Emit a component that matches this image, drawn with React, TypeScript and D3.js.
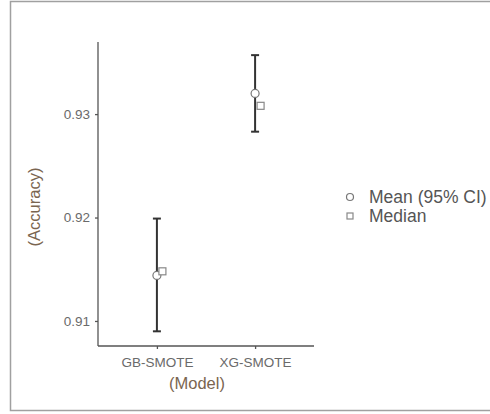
import React, { useRef, useEffect } from "react";
import * as d3 from "d3";

const models = ["GB-SMOTE", "XG-SMOTE"];
const meanValues = [0.9144, 0.932];
const ciLower = [0.909, 0.9283];
const ciUpper = [0.9199, 0.9357];
const medianValues = [0.9148, 0.9308];
const yTicks = [0.91, 0.92, 0.93];
const legendLabels = ["Mean (95% CI)", "Median"];

const App = () => {
  const ref = useRef<SVGSVGElement>(null);

  useEffect(() => {
    const svg = d3.select(ref.current);
    svg.selectAll("*").remove();

    const font = "'Liberation Sans', Arial, sans-serif";
    const left = 98, right = 314, top = 42, bottom = 346;

    // frame (right side runs off the picture)
    svg.append("rect")
      .attr("x", 10.5).attr("y", 1.5)
      .attr("width", 600).attr("height", 409)
      .attr("fill", "white")
      .attr("stroke", "#a0a0a0").attr("stroke-width", 1.5);

    const x = d3.scalePoint().domain(models).range([left, right]).padding(0.6);
    const y = d3.scaleLinear().domain([0.90758, 0.93697]).range([bottom, top]);

    const g = svg.append("g").attr("font-family", font);

    // y axis
    const ya = g.append("g")
      .attr("transform", `translate(${left},0)`)
      .call(d3.axisLeft(y).tickValues(yTicks).tickFormat(d3.format(".2f")).tickSize(3).tickPadding(5));
    ya.select(".domain").attr("stroke", "#555").attr("stroke-width", 1.3).attr("d", `M0,${top}V${bottom}`);
    ya.selectAll(".tick line").attr("stroke", "#555").attr("stroke-width", 1.3);
    ya.selectAll(".tick text").attr("fill", "#6a6a6a").attr("font-size", 13.5).attr("font-family", font);

    // x axis
    const xa = g.append("g")
      .attr("transform", `translate(0,${bottom})`)
      .call(d3.axisBottom(x).tickSize(3).tickPadding(8));
    xa.select(".domain").attr("stroke", "#555").attr("stroke-width", 1.3).attr("d", `M${left},0H${right}`);
    xa.selectAll(".tick line").attr("stroke", "#555").attr("stroke-width", 1.3);
    xa.selectAll(".tick text").attr("fill", "#6a6a6a").attr("font-size", 13.5).attr("font-family", font);

    // axis titles
    g.append("text")
      .attr("x", 197).attr("y", 389)
      .attr("text-anchor", "middle")
      .attr("font-size", 16.5).attr("fill", "#7a6550")
      .text("(Model)");
    g.append("text")
      .attr("transform", "translate(40,207) rotate(-90)")
      .attr("text-anchor", "middle")
      .attr("font-size", 16.5).attr("fill", "#7a6550")
      .text("(Accuracy)");

    // error bars
    const capW = 4;
    models.forEach((m, i) => {
      const cx = x(m) as number;
      const eb = g.append("g").attr("stroke", "#333").attr("stroke-width", 2);
      eb.append("line").attr("x1", cx).attr("x2", cx).attr("y1", y(ciLower[i])).attr("y2", y(ciUpper[i]));
      eb.append("line").attr("x1", cx - capW).attr("x2", cx + capW).attr("y1", y(ciLower[i])).attr("y2", y(ciLower[i]));
      eb.append("line").attr("x1", cx - capW).attr("x2", cx + capW).attr("y1", y(ciUpper[i])).attr("y2", y(ciUpper[i]));
    });

    // means
    g.selectAll(".mean")
      .data(meanValues)
      .enter()
      .append("circle")
      .attr("cx", (d, i) => x(models[i]) as number)
      .attr("cy", (d) => y(d))
      .attr("r", 4)
      .attr("fill", "white")
      .attr("stroke", "#777").attr("stroke-width", 1.2);

    // medians
    g.selectAll(".median")
      .data(medianValues)
      .enter()
      .append("rect")
      .attr("x", (d, i) => (x(models[i]) as number) + 5.5 - 3.5)
      .attr("y", (d) => y(d) - 3.5)
      .attr("width", 7).attr("height", 7)
      .attr("fill", "white")
      .attr("stroke", "#888").attr("stroke-width", 1.2);

    // legend
    const lg = g.append("g").attr("transform", "translate(350,197)");
    lg.append("circle").attr("cx", 0).attr("cy", 0).attr("r", 3.5)
      .attr("fill", "white").attr("stroke", "#777").attr("stroke-width", 1.2);
    lg.append("rect").attr("x", -3).attr("y", 16).attr("width", 6).attr("height", 6)
      .attr("fill", "white").attr("stroke", "#888").attr("stroke-width", 1.2);
    legendLabels.forEach((t, i) => {
      lg.append("text")
        .attr("x", 19).attr("y", i * 18.5 + 6)
        .attr("font-size", 17.5).attr("fill", "#555")
        .text(t);
    });
  }, []);

  return (
    <svg
      ref={ref}
      width={490}
      height={414}
      style={{ position: "absolute", left: 0, top: 0, background: "white" }}
    />
  );
};

export default App;
